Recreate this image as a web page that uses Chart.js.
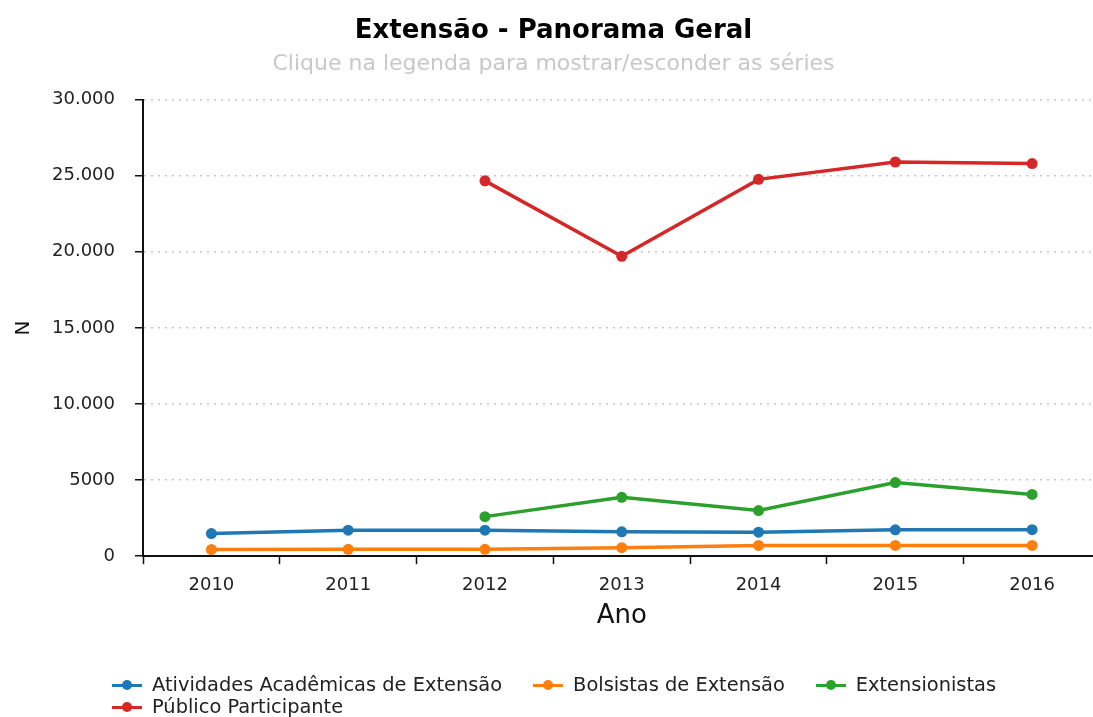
<!DOCTYPE html>
<html>
<head>
<meta charset="utf-8">
<script src="https://cdn.jsdelivr.net/npm/chart.js@4/dist/chart.umd.min.js"></script>
<style>
  html, body { margin: 0; padding: 0; background: #fff; overflow: hidden; }
  #wrap { position: relative; width: 1093px; height: 717px; overflow: hidden; }
  #c { position: absolute; left: 0; top: 0; }
  #legend { position: absolute; left: 112px; top: 674px; width: 975px; display: flex; flex-wrap: wrap;
    font-family: "DejaVu Sans", sans-serif; font-size: 19.4px; color: #222; line-height: 22px; }
  .item { display: flex; align-items: center; margin-right: 31px; cursor: pointer; white-space: nowrap; }
  .mk { position: relative; width: 30px; height: 12px; margin-right: 10px; }
  .mk .ln { position: absolute; left: 0; top: 4.5px; width: 30px; height: 3px; }
  .mk .dt { position: absolute; left: 10px; top: 1px; width: 10px; height: 10px; border-radius: 50%; }
  .item.off { opacity: 0.35; }
</style>
</head>
<body>
<div id="wrap">
  <canvas id="c" width="1107" height="717"></canvas>
  <div id="legend"></div>
</div>
<script>
const categories = ['2010', '2011', '2012', '2013', '2014', '2015', '2016'];
const atividades = [1490, 1710, 1710, 1600, 1580, 1730, 1740];
const bolsistas = [440, 450, 450, 560, 710, 710, 710];
const extensionistas = [null, null, 2600, 3870, 3000, 4840, 4060];
const publico = [null, null, 24660, 19700, 24760, 25900, 25800];
const seriesNames = ['Atividades Acadêmicas de Extensão', 'Bolsistas de Extensão', 'Extensionistas', 'Público Participante'];
const seriesColors = ['#1f77b4', '#ff7f0e', '#2ca02c', '#d62728'];
const yTickValues = [0, 5000, 10000, 15000, 20000, 25000, 30000];
const yTickLabels = ['0', '5000', '10.000', '15.000', '20.000', '25.000', '30.000'];

const FONT = '"DejaVu Sans", sans-serif';
const seriesData = [atividades, bolsistas, extensionistas, publico];

const datasets = seriesData.map((d, i) => ({
  label: seriesNames[i],
  data: d,
  borderColor: seriesColors[i],
  backgroundColor: seriesColors[i],
  borderWidth: 3.5,
  pointRadius: 5.5,
  pointHoverRadius: 6.5,
  pointBorderWidth: 0,
  tension: 0,
  spanGaps: false,
  fill: false
}));

const chart = new Chart(document.getElementById('c'), {
  type: 'line',
  data: { labels: categories, datasets },
  options: {
    responsive: false,
    animation: false,
    layout: { padding: { left: 0, right: 0, top: 0, bottom: 85 } },
    plugins: {
      legend: { display: false },
      tooltip: { enabled: true },
      title: {
        display: true,
        text: 'Extensão - Panorama Geral',
        color: '#000',
        font: { family: FONT, size: 26, weight: 'bold' },
        padding: { top: 16, bottom: 4 }
      },
      subtitle: {
        display: true,
        text: 'Clique na legenda para mostrar/esconder as séries',
        color: '#c8c8c8',
        font: { family: FONT, size: 22 },
        padding: { top: 0, bottom: 22 }
      }
    },
    scales: {
      x: {
        type: 'category',
        offset: true,
        grid: { display: true, drawOnChartArea: false, drawTicks: true, tickLength: 8, tickColor: '#111', tickWidth: 1.5, offset: true },
        border: { display: true, color: '#111', width: 2 },
        ticks: { color: '#222', font: { family: FONT, size: 18 }, padding: 10, maxRotation: 0 },
        title: { display: true, text: 'Ano', color: '#111', font: { family: FONT, size: 26 }, padding: { top: -5, bottom: 0 } }
      },
      y: {
        type: 'linear',
        min: 0,
        max: 30000,
        afterFit: (s) => { s.width = 143; },
        afterBuildTicks: (s) => { s.ticks = yTickValues.map(v => ({ value: v })); },
        grid: { display: true, drawOnChartArea: true, drawTicks: true, tickLength: 8, color: '#c8c8c8', lineWidth: 1.5, tickColor: '#111', tickWidth: 1.5 },
        border: { display: true, color: '#111', width: 2, dash: [2, 5] },
        ticks: {
          color: '#222', font: { family: FONT, size: 18 }, padding: 20,
          callback: (v) => { const i = yTickValues.indexOf(v); return i >= 0 ? yTickLabels[i] : ''; }
        },
        title: { display: true, text: 'N', color: '#111', font: { family: FONT, size: 20 }, padding: { top: 12, bottom: 0 } }
      }
    }
  }
});

const legendEl = document.getElementById('legend');
seriesNames.forEach((name, i) => {
  const it = document.createElement('div');
  it.className = 'item';
  it.innerHTML = '<span class="mk"><span class="ln" style="background:' + seriesColors[i] + '"></span><span class="dt" style="background:' + seriesColors[i] + '"></span></span><span></span>';
  it.lastChild.textContent = name;
  it.addEventListener('click', () => {
    const vis = chart.isDatasetVisible(i);
    chart.setDatasetVisibility(i, !vis);
    it.classList.toggle('off', vis);
    chart.update();
  });
  legendEl.appendChild(it);
});
</script>
</body>
</html>
